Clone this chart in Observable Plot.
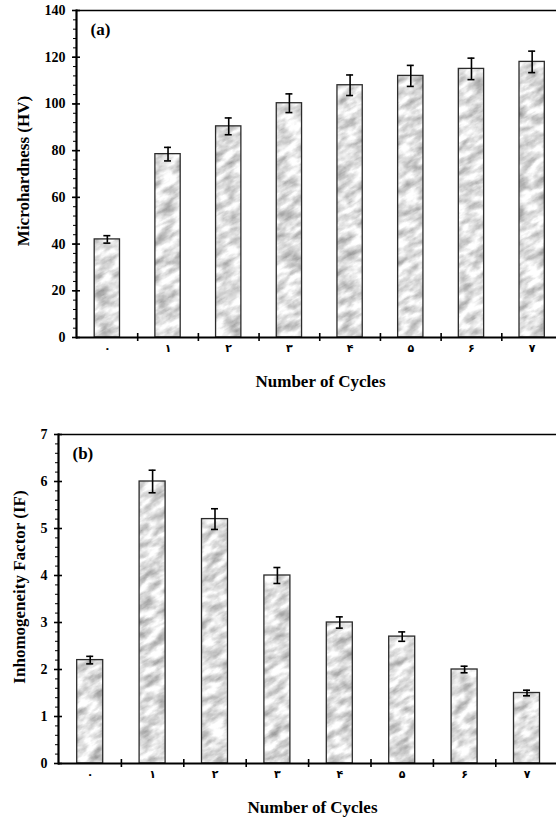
<!DOCTYPE html>
<html>
<head>
<meta charset="utf-8">
<script src="https://cdn.jsdelivr.net/npm/d3@7"></script>
<script src="https://cdn.jsdelivr.net/npm/@observablehq/plot@0.6"></script>
<style>
  html, body { margin: 0; padding: 0; background: white; }
  #charts svg { display: block; }
</style>
</head>
<body>
<svg width="0" height="0" style="position:absolute">
  <defs>
    <filter id="marbleFilter" x="-800" y="-800" width="2400" height="2400" filterUnits="userSpaceOnUse" color-interpolation-filters="sRGB">
      <feTurbulence type="fractalNoise" baseFrequency="0.06 0.13" numOctaves="4" seed="5" result="n"/>
      <feColorMatrix in="n" type="matrix" values="0.7 0 0 0 0.52  0.7 0 0 0 0.52  0.7 0 0 0 0.52  0 0 0 0 1"/>
    </filter>
    <pattern id="marble" patternUnits="userSpaceOnUse" x="-800" y="-800" width="2400" height="2400" patternTransform="rotate(-30)">
      <rect x="-800" y="-800" width="2400" height="2400" fill="#ddd" filter="url(#marbleFilter)"/>
    </pattern>
  </defs>
</svg>
<div id="charts"></div>
<script>
// ---- data ----
const cycles = ["۰", "۱", "۲", "۳", "۴", "۵", "۶", "۷"];
const hardness = [42, 78.5, 90.4, 100.3, 108, 112, 115, 118];
const hardnessErr = [1.6, 2.9, 3.6, 4.0, 4.4, 4.5, 4.6, 4.6];
const inhomogeneity = [2.2, 6.0, 5.2, 4.0, 3.0, 2.7, 2.0, 1.5];
const inhomogeneityErr = [0.08, 0.24, 0.22, 0.17, 0.12, 0.1, 0.07, 0.06];
const hardnessTicks = [0, 20, 40, 60, 80, 100, 120, 140];
const inhomTicks = [0, 1, 2, 3, 4, 5, 6, 7];
const xTitle = "Number of Cycles";

const fontFam = "'Liberation Serif', 'Times New Roman', 'DejaVu Sans', serif";

function panel({values, errs, yDomain, majorTicks, minorStep, yTitle, tag,
                 height, marginTop, marginBottom, marginLeft, xRange, barWidth,
                 yTitleX, yTitleDy, xTitleDx}) {
  const rows = cycles.map((c, i) => ({c, v: values[i], lo: values[i] - errs[i], hi: values[i] + errs[i]}));
  const bw = (xRange[1] - xRange[0]) / cycles.length;
  const inset = (bw - barWidth) / 2;
  const capInset = (bw - 7) / 2;
  const minor = d3.range(yDomain[0], yDomain[1] + 1e-9, minorStep);
  return Plot.plot({
    width: 556,
    height,
    marginTop, marginBottom, marginLeft, marginRight: 0,
    style: {fontFamily: fontFam, fontSize: "14px", fontWeight: "bold", color: "black", background: "white"},
    x: {type: "band", domain: cycles, range: xRange, padding: 0, round: false},
    y: {domain: yDomain},
    marks: [
      Plot.barY(rows, {x: "c", y: "v", fill: "url(#marble)", stroke: "#2b2b2b", strokeWidth: 1.3, insetLeft: inset, insetRight: inset}),
      Plot.ruleX(rows, {x: "c", y1: "lo", y2: "hi", stroke: "black", strokeWidth: 1.6}),
      Plot.tickY(rows, {x: "c", y: "hi", stroke: "black", strokeWidth: 1.6, inset: capInset}),
      Plot.tickY(rows, {x: "c", y: "lo", stroke: "black", strokeWidth: 1.6, inset: capInset}),
      // axis lines
      Plot.ruleY([yDomain[1]], {stroke: "black", strokeWidth: 1.6}),
      Plot.ruleY([yDomain[0]], {stroke: "black", strokeWidth: 2.2}),
      Plot.frame({anchor: "left", stroke: "black", strokeWidth: 2.2}),
      // y ticks
      Plot.axisY({ticks: minor, tickSize: 3, tickFormat: () => "", strokeWidth: 1, label: null}),
      Plot.axisY({ticks: majorTicks, tickSize: 4, tickPadding: 7, strokeWidth: 1.6, fontSize: 14, tickFormat: d => String(d), label: null}),
      Plot.axisY({ticks: majorTicks, tickSize: 4, dx: 4, tickFormat: () => "", strokeWidth: 1.6, label: null}),
      // x ticks at category boundaries (crossing the axis)
      Plot.axisX({ticks: cycles, tickSize: 4, dx: bw / 2, tickFormat: () => "", strokeWidth: 1.6, label: null}),
      Plot.axisX({ticks: cycles, tickSize: 4, dx: bw / 2, dy: -4, tickFormat: () => "", strokeWidth: 1.6, label: null}),
      // x tick labels
      Plot.axisX({ticks: cycles, tickSize: 0, tickPadding: 7, fontSize: 11, label: null}),
      // titles
      Plot.text([xTitle], {frameAnchor: "bottom", lineAnchor: "middle", textAnchor: "middle", dy: 44, dx: xTitleDx, fontSize: 17, fontWeight: "bold"}),
      Plot.text([yTitle], {frameAnchor: "left", lineAnchor: "middle", textAnchor: "middle", rotate: -90, dx: yTitleX - marginLeft, dy: yTitleDy, fontSize: 17, fontWeight: "bold"}),
      Plot.text([tag], {frameAnchor: "top-left", lineAnchor: "middle", textAnchor: "start", dx: 14, dy: 19, fontSize: 17, fontWeight: "bold"})
    ]
  });
}

const charts = document.getElementById("charts");
charts.append(panel({
  values: hardness, errs: hardnessErr, yDomain: [0, 140], majorTicks: hardnessTicks, minorStep: 4,
  yTitle: "Microhardness (HV)", tag: "(a)",
  height: 400, marginTop: 10, marginBottom: 63, marginLeft: 76,
  xRange: [76.5, 562], barWidth: 25.3, yTitleX: 23, yTitleDy: -3, xTitleDx: 4
}));
charts.append(panel({
  values: inhomogeneity, errs: inhomogeneityErr, yDomain: [0, 7], majorTicks: inhomTicks, minorStep: 0.2,
  yTitle: "Inhomogeneity Factor (IF)", tag: "(b)",
  height: 418, marginTop: 34, marginBottom: 55, marginLeft: 58,
  xRange: [58.5, 557.7], barWidth: 26, yTitleX: 19, yTitleDy: -12, xTitleDx: 5
}));
</script>
</body>
</html>
